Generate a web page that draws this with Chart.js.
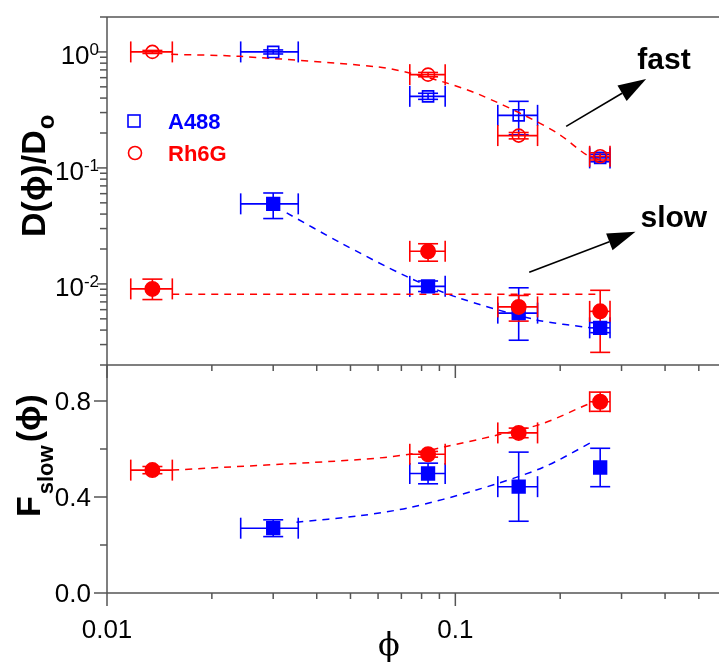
<!DOCTYPE html>
<html>
<head>
<meta charset="utf-8">
<script src="https://cdn.jsdelivr.net/npm/chart.js@4.4.0/dist/chart.umd.min.js"></script>
<style>
  html, body { margin: 0; padding: 0; background: #fff; overflow: hidden; }
  #wrap { position: relative; width: 737px; height: 663px; }
  canvas { position: absolute; left: 0; top: 0; }
</style>
</head>
<body>
<div id="wrap">
  <canvas id="topPanel" width="737" height="663"></canvas>
  <canvas id="botPanel" width="737" height="663"></canvas>
</div>
<script>
// volume fraction phi (x) with horizontal error limits
const rhPhi   = [0.0135, 0.0835, 0.152, 0.2605];
const rhPhiLo = [0.0117, 0.074, 0.1324, 0.243];
const rhPhiHi = [0.0154, 0.0935, 0.1722, 0.278];
const a4Phi   = [0.030, 0.0835, 0.152, 0.2605];
const a4PhiLo = [0.0242, 0.074, 0.1324, 0.243];
const a4PhiHi = [0.0354, 0.0935, 0.1722, 0.278];
const a4FPhiLo = [0.0242, 0.074, 0.1324, null];
const a4FPhiHi = [0.0354, 0.0935, 0.1722, null];

// D(phi)/Do, fast component (open symbols)
const rhFast   = [1.0, 0.637, 0.19, 0.126];
const rhFastLo = [0.97, 0.61, 0.178, 0.117];
const rhFastHi = [1.03, 0.665, 0.202, 0.135];
const a4Fast   = [1.0, 0.414, 0.284, 0.122];
const a4FastLo = [0.96, 0.39, 0.193, 0.113];
const a4FastHi = [1.04, 0.44, 0.375, 0.131];

// D(phi)/Do, slow component (filled symbols)
const rhSlow   = [0.00906, 0.0191, 0.00634, 0.0058];
const rhSlowLo = [0.00733, 0.0157, 0.00478, 0.00257];
const rhSlowHi = [0.0110, 0.0222, 0.00795, 0.00881];
const a4Slow   = [0.049, 0.00953, 0.0056, 0.00418];
const a4SlowLo = [0.0366, 0.0086, 0.00327, 0.0038];
const a4SlowHi = [0.0608, 0.0106, 0.00926, 0.00464];

// F_slow(phi)
const rhF    = [0.512, 0.578, 0.667, 0.797];
const rhFErr = [0.015, 0.012, 0.02, 0.04];
const a4F    = [0.27, 0.498, 0.443, 0.523];
const a4FErr = [0.035, 0.043, 0.144, 0.08];

// dashed fit curves
const rhFastFitX = [0.0153, 0.024, 0.0594, 0.0739, 0.0942, 0.1174, 0.1598, 0.199, 0.2376, 0.26];
const rhFastFitY = [0.953, 0.916, 0.745, 0.659, 0.541, 0.428, 0.279, 0.194, 0.13, 0.117];
const rhSlowFitX = [0.0154, 0.254];
const rhSlowFitY = [0.00813, 0.00813];
const a4SlowFitX = [0.0328, 0.0466, 0.0724, 0.1007, 0.1708, 0.2427];
const a4SlowFitY = [0.0409, 0.0228, 0.0116, 0.0077, 0.0049, 0.0042];
const rhFFitX = [0.0154, 0.0532, 0.0739, 0.0933, 0.1311, 0.1783, 0.2427, 0.2605];
const rhFFitY = [0.512, 0.556, 0.578, 0.609, 0.657, 0.706, 0.789, 0.80];
const a4FFitX = [0.035, 0.0532, 0.0739, 0.1149, 0.1783, 0.2505];
const a4FFitY = [0.295, 0.322, 0.356, 0.429, 0.523, 0.634];

// tick labels
const xTicks = [0.01, 0.1];
const xTickLabels = ['0.01', '0.1'];
const yTopTicks = [0.01, 0.1, 1];
const yTopExp = ['-2', '-1', '0'];
const yBotTicks = [0, 0.4, 0.8];
const yBotTickLabels = ['0.0', '0.4', '0.8'];
const yBotMinor = [0.2, 0.6];

const RED = '#ff0000', BLUE = '#0000ff', AX = '#555';
const SANS = "'Liberation Sans', Arial, sans-serif";
const PHI = '\u03d5';

const pts = (xs, ys) => xs.map((x, i) => ({ x: x, y: ys[i] }));

function seg(ctx, x1, y1, x2, y2) {
  ctx.beginPath(); ctx.moveTo(x1, y1); ctx.lineTo(x2, y2); ctx.stroke();
}

function errorBars(chart, list) {
  const ctx = chart.ctx, x = chart.scales.x, y = chart.scales.y;
  ctx.save();
  ctx.lineWidth = 1.6;
  list.forEach(s => {
    ctx.strokeStyle = s.color;
    s.x.forEach((xv, i) => {
      const px = x.getPixelForValue(xv), py = y.getPixelForValue(s.y[i]);
      if (s.xlo && s.xlo[i] != null) {
        const a = x.getPixelForValue(s.xlo[i]), b = x.getPixelForValue(s.xhi[i]);
        seg(ctx, a, py, b, py);
        seg(ctx, a, py - 10.5, a, py + 10.5);
        seg(ctx, b, py - 10.5, b, py + 10.5);
      }
      const a = y.getPixelForValue(s.ylo[i]), b = y.getPixelForValue(s.yhi[i]);
      seg(ctx, px, a, px, b);
      seg(ctx, px - 10, a, px + 10, a);
      seg(ctx, px - 10, b, px + 10, b);
    });
  });
  ctx.restore();
}

function xTickMarks(chart, yPix) {
  const ctx = chart.ctx, x = chart.scales.x;
  for (let d = 0.01; d < 1; d *= 10) {
    for (let m = 1; m <= 9; m++) {
      const v = m * d;
      if (v > x.max) break;
      const px = x.getPixelForValue(v);
      seg(ctx, px, yPix, px, yPix + (m === 1 ? 13 : 6));
    }
  }
}

function arrow(ctx, x1, y1, x2, y2) {
  const ang = Math.atan2(y2 - y1, x2 - x1), L = 28, W = 9;
  const bx = x2 - L * Math.cos(ang), by = y2 - L * Math.sin(ang);
  ctx.lineWidth = 1.6;
  seg(ctx, x1, y1, bx, by);
  ctx.beginPath();
  ctx.moveTo(x2, y2);
  ctx.lineTo(bx + W * Math.sin(ang), by - W * Math.cos(ang));
  ctx.lineTo(bx - W * Math.sin(ang), by + W * Math.cos(ang));
  ctx.closePath();
  ctx.fill();
}

const marker = (label, xs, ys, style, r, color, filled, order) => ({
  label: label, data: pts(xs, ys), pointStyle: style, pointRadius: r,
  pointBorderColor: color, pointBackgroundColor: filled ? color : 'rgba(0,0,0,0)',
  pointBorderWidth: 1.6, showLine: false, order: order
});
const fit = (xs, ys, color) => ({
  data: pts(xs, ys), showLine: true, pointRadius: 0, borderColor: color,
  borderWidth: 1.5, borderDash: [7, 6], tension: 0.3, fill: false, order: 10
});

function noPad(s) { s.paddingLeft = 0; s.paddingRight = 0; s.paddingTop = 0; s.paddingBottom = 0; }

function baseOptions(padTop, padBottom, yScale) {
  return {
    responsive: false, animation: false, events: [],
    layout: { padding: { top: padTop, bottom: padBottom, left: 0, right: 1 } },
    plugins: { legend: { display: false }, tooltip: { enabled: false } },
    scales: {
      x: { type: 'logarithmic', min: 0.01, max: 0.6, grid: { display: false },
           border: { display: false }, ticks: { display: false },
           afterFit: s => { s.height = 0; noPad(s); } },
      y: Object.assign({ grid: { display: false }, border: { display: false },
           ticks: { display: false }, afterFit: s => { s.width = 107; noPad(s); } }, yScale)
    }
  };
}

// ---------- top panel: D(phi)/Do ----------
new Chart(document.getElementById('topPanel'), {
  type: 'scatter',
  data: { datasets: [
    marker('Rh6G', rhPhi, rhFast, 'circle', 6.5, RED, false, 1),
    marker('A488', a4Phi, a4Fast, 'rect', 7.8, BLUE, false, 2),
    marker('Rh6G slow', rhPhi, rhSlow, 'circle', 7.2, RED, true, 1),
    marker('A488 slow', a4Phi, a4Slow, 'rect', 9, BLUE, true, 2),
    fit(rhFastFitX, rhFastFitY, RED),
    fit(rhSlowFitX, rhSlowFitY, RED),
    fit(a4SlowFitX, a4SlowFitY, BLUE)
  ] },
  options: baseOptions(17, 298, { type: 'logarithmic', min: 0.002, max: 2 }),
  plugins: [{
    id: 'topDeco',
    beforeDatasetsDraw(chart) {
      errorBars(chart, [
        { x: a4Phi, xlo: a4PhiLo, xhi: a4PhiHi, y: a4Slow, ylo: a4SlowLo, yhi: a4SlowHi, color: BLUE },
        { x: a4Phi, xlo: a4PhiLo, xhi: a4PhiHi, y: a4Fast, ylo: a4FastLo, yhi: a4FastHi, color: BLUE },
        { x: rhPhi, xlo: rhPhiLo, xhi: rhPhiHi, y: rhFast, ylo: rhFastLo, yhi: rhFastHi, color: RED },
        { x: rhPhi, xlo: rhPhiLo, xhi: rhPhiHi, y: rhSlow, ylo: rhSlowLo, yhi: rhSlowHi, color: RED }
      ]);
    },
    afterDraw(chart) {
      const ctx = chart.ctx, a = chart.chartArea, x = chart.scales.x, y = chart.scales.y;
      ctx.save();
      ctx.strokeStyle = AX; ctx.lineWidth = 1.5;
      seg(ctx, a.left, a.top, a.right, a.top);
      seg(ctx, a.left, a.top, a.left, a.bottom);
      seg(ctx, a.left, a.bottom, a.right, a.bottom);
      xTickMarks(chart, a.bottom);
      // y ticks (log)
      for (let d = 0.001; d < 2; d *= 10) {
        for (let m = 1; m <= 9; m++) {
          const v = m * d;
          if (v < y.min || v > y.max) continue;
          const py = y.getPixelForValue(v);
          seg(ctx, a.left, py, a.left - (m === 1 ? 10 : 7), py);
        }
      }
      ctx.fillStyle = '#000';
      ctx.textAlign = 'right'; ctx.textBaseline = 'alphabetic';
      yTopTicks.forEach((v, i) => {
        const py = y.getPixelForValue(v);
        ctx.font = '17px ' + SANS;
        const w = ctx.measureText(yTopExp[i]).width;
        ctx.fillText(yTopExp[i], 99, py + 3);
        ctx.font = '26px ' + SANS;
        ctx.fillText('10', 99 - w, py + 12);
      });
      // y title
      ctx.save();
      ctx.translate(45, 237);
      ctx.rotate(-Math.PI / 2);
      ctx.textAlign = 'left';
      ctx.font = 'bold 34px ' + SANS;
      const label = 'D(' + PHI + ')/D';
      const tw = ctx.measureText(label).width;
      ctx.fillText(label, 0, 0);
      ctx.font = 'bold 24px ' + SANS;
      ctx.fillText('o', tw + 1, 9);
      ctx.restore();
      // legend
      const ds = chart.data.datasets;
      ctx.lineWidth = 1.6;
      ctx.strokeStyle = BLUE;
      ctx.strokeRect(128, 115, 12, 12);
      ctx.strokeStyle = RED;
      ctx.beginPath(); ctx.arc(135, 153, 6.5, 0, Math.PI * 2); ctx.stroke();
      ctx.textAlign = 'left';
      ctx.font = 'bold 22px ' + SANS;
      ctx.fillStyle = BLUE; ctx.fillText(ds[1].label, 168, 129);
      ctx.fillStyle = RED; ctx.fillText(ds[0].label, 168, 161);
      // fast / slow annotations
      ctx.fillStyle = '#000'; ctx.strokeStyle = '#000';
      arrow(ctx, x.getPixelForValue(0.208), y.getPixelForValue(0.228),
                 x.getPixelForValue(0.353), y.getPixelForValue(0.585));
      arrow(ctx, x.getPixelForValue(0.163), y.getPixelForValue(0.0126),
                 x.getPixelForValue(0.329), y.getPixelForValue(0.0281));
      ctx.font = 'bold 30px ' + SANS;
      ctx.fillText('fast', x.getPixelForValue(0.333), y.getPixelForValue(0.718));
      ctx.fillText('slow', x.getPixelForValue(0.340), y.getPixelForValue(0.0312));
      ctx.restore();
    }
  }]
});

// ---------- bottom panel: F_slow(phi) ----------
new Chart(document.getElementById('botPanel'), {
  type: 'scatter',
  data: { datasets: [
    marker('Rh6G', rhPhi, rhF, 'circle', 7.2, RED, true, 1),
    marker('A488', a4Phi, a4F, 'rect', 9, BLUE, true, 2),
    fit(rhFFitX, rhFFitY, RED),
    fit(a4FFitX, a4FFitY, BLUE)
  ] },
  options: baseOptions(365, 70, { type: 'linear', min: 0, max: 0.95 }),
  plugins: [{
    id: 'botDeco',
    beforeDatasetsDraw(chart) {
      errorBars(chart, [
        { x: a4Phi, xlo: a4FPhiLo, xhi: a4FPhiHi, y: a4F,
          ylo: a4F.map((v, i) => v - a4FErr[i]), yhi: a4F.map((v, i) => v + a4FErr[i]), color: BLUE },
        { x: rhPhi, xlo: rhPhiLo, xhi: rhPhiHi, y: rhF,
          ylo: rhF.map((v, i) => v - rhFErr[i]), yhi: rhF.map((v, i) => v + rhFErr[i]), color: RED }
      ]);
    },
    afterDraw(chart) {
      const ctx = chart.ctx, a = chart.chartArea, x = chart.scales.x, y = chart.scales.y;
      ctx.save();
      ctx.strokeStyle = AX; ctx.lineWidth = 1.5;
      seg(ctx, a.left, a.top, a.left, a.bottom);
      seg(ctx, a.left, a.bottom, a.right, a.bottom);
      xTickMarks(chart, a.bottom);
      yBotTicks.forEach(v => { const py = y.getPixelForValue(v); seg(ctx, a.left, py, a.left - 13, py); });
      yBotMinor.forEach(v => { const py = y.getPixelForValue(v); seg(ctx, a.left, py, a.left - 7, py); });
      ctx.fillStyle = '#000';
      ctx.font = '26px ' + SANS;
      ctx.textAlign = 'right'; ctx.textBaseline = 'alphabetic';
      yBotTicks.forEach((v, i) => ctx.fillText(yBotTickLabels[i], 91, y.getPixelForValue(v) + 9));
      ctx.textAlign = 'center';
      xTicks.forEach((v, i) => ctx.fillText(xTickLabels[i], x.getPixelForValue(v), 638));
      // x title
      ctx.font = "32px 'DejaVu Serif', 'Liberation Serif', serif";
      ctx.fillText(PHI, 389, 655);
      // y title
      ctx.save();
      ctx.translate(40, 517);
      ctx.rotate(-Math.PI / 2);
      ctx.textAlign = 'left';
      ctx.font = 'bold 34px ' + SANS;
      const fw = ctx.measureText('F').width;
      ctx.fillText('F', 0, 0);
      ctx.font = 'bold 22px ' + SANS;
      const sw = ctx.measureText('slow').width;
      ctx.fillText('slow', fw + 2, 13);
      ctx.font = 'bold 34px ' + SANS;
      ctx.fillText('(' + PHI + ')', fw + sw + 5, 0);
      ctx.restore();
      ctx.restore();
    }
  }]
});
</script>
</body>
</html>
